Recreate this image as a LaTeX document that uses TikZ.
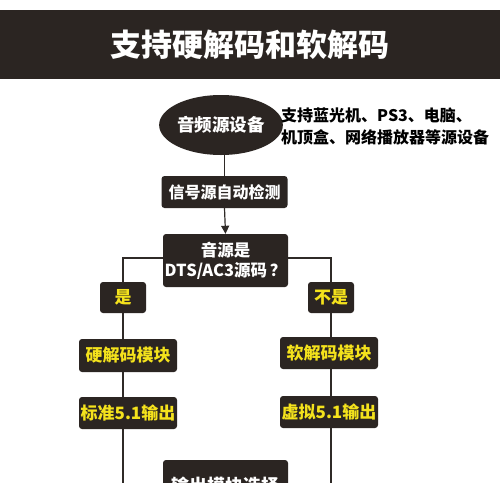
\documentclass[tikz,border=0pt]{standalone}
\usepackage{fontspec}
\setmainfont{Noto Sans CJK SC}
\newfontfamily\heavy{Noto Sans CJK SC Black}
\usetikzlibrary{arrows.meta,shapes.geometric}
\definecolor{dk}{HTML}{2B2522}
\definecolor{yl}{HTML}{F4E21C}
\definecolor{ln}{HTML}{2F2A27}
\tikzset{
  x=1pt,y=-1pt,
  darkbox/.style={fill=dk,rounded corners=3pt,inner sep=0pt,text=white,font=\bfseries\fontsize{16}{19}\selectfont,align=center},
  ybox/.style={darkbox,text=yl,font=\bfseries\fontsize{17}{20}\selectfont},
  conn/.style={draw=ln,line width=1.2pt},
}
\begin{document}
\begin{tikzpicture}
\useasboundingbox (0,0) rectangle (500,482);
\fill[white] (0,0) rectangle (500,482);
\node[fill=dk,minimum width=500pt,minimum height=69pt,inner sep=0pt,text=white,font=\heavy\fontsize{31}{34}\selectfont] (title) at (250,44.5) {支持硬解码和软解码};
\node[ellipse,fill=dk,minimum width=106pt,minimum height=60pt,inner sep=0pt,text=white,font=\bfseries\fontsize{17.5}{20}\selectfont] (src) at (221,125) {音频源设备};
\node[anchor=west,align=left,font=\bfseries\fontsize{16}{22}\selectfont,inner sep=0pt] (note) at (281,126) {支持蓝光机、PS3、电脑、\\机顶盒、网络播放器等源设备};
\node[darkbox,minimum width=126pt,minimum height=32pt] (det) at (224.5,192) {信号源自动检测};
\node[darkbox,minimum width=125pt,minimum height=53pt,font=\bfseries\fontsize{16.5}{20}\selectfont] (dec) at (225.5,260.5) {音源是\\DTS/AC3源码\,？};
\node[ybox,minimum width=46pt,minimum height=31pt] (yes) at (123,297.5) {是};
\node[ybox,minimum width=46pt,minimum height=31pt] (no) at (331,297.5) {不是};
\node[ybox,minimum width=98pt,minimum height=33pt] (hw) at (128,355.5) {硬解码模块};
\node[ybox,minimum width=98pt,minimum height=32pt] (sw) at (329,353) {软解码模块};
\node[ybox,minimum width=98pt,minimum height=32pt] (std) at (128,413) {标准5.1输出};
\node[ybox,minimum width=98pt,minimum height=32pt] (virt) at (329,412) {虚拟5.1输出};
\node[darkbox,minimum width=125pt,minimum height=52pt,font=\bfseries\fontsize{18}{21}\selectfont] (out) at (225.5,486) {输出模块选择};
% connectors
\draw[conn] (src.south -| det.north) -- (det.north);
\draw[conn,-{Triangle[length=8pt,width=8pt]}] (det.south) -- (dec.north);
\draw[conn] (dec.west |- 0,258) -| (yes.north);
\draw[conn] (dec.east |- 0,258) -| (no.north);
\draw[conn] (yes.south) -- (yes.south |- hw.north);
\draw[conn] (no.south) -- (no.south |- sw.north);
\draw[conn] (yes.south |- hw.south) -- (yes.south |- std.north);
\draw[conn] (no.south |- sw.south) -- (no.south |- virt.north);
\draw[conn] (yes.south |- std.south) |- (out.west);
\draw[conn] (no.south |- virt.south) |- (out.east);
\end{tikzpicture}
\end{document}
